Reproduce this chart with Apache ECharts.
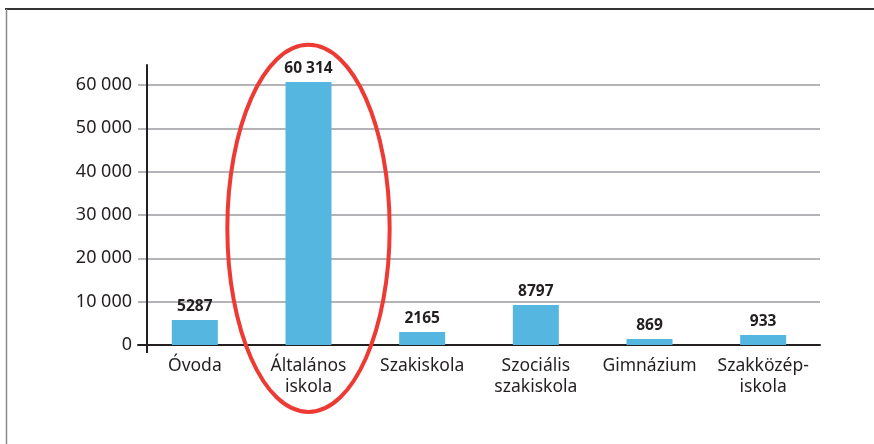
<!DOCTYPE html>
<html>
<head>
<meta charset="utf-8">
<script src="https://cdn.jsdelivr.net/npm/echarts@6/dist/echarts.min.js"></script>
<style>html,body{margin:0;padding:0;background:#fff}#c{width:874px;height:444px}</style>
</head>
<body>
<div id="c"></div>
<script>
const categories = ['Óvoda', 'Általános\niskola', 'Szakiskola', 'Szociális\nszakiskola', 'Gimnázium', 'Szakközép-\niskola'];
// bar heights as drawn in the picture
const barValues = [5770, 60700, 3000, 9230, 1380, 2300];
// printed value labels
const labelTexts = ['5287', '60 314', '2165', '8797', '869', '933'];
const yTicks = [0, 10000, 20000, 30000, 40000, 50000, 60000];
// highlighted category (ellipse around it), in data units
const highlightIndex = 1;
const highlightCenterValue = 26900;
const highlightHalfHeightValue = 42350;
const highlightHalfWidthBands = 0.714;

const FONT = 'Noto Sans';
const TXT = '#231f20';
const chart = echarts.init(document.getElementById('c'));
const option = {
  animation: false,
  backgroundColor: '#fff',
  grid: { left: 138, right: 54, top: 65, bottom: 99, containLabel: false },
  xAxis: {
    type: 'category',
    data: categories,
    axisLine: { show: true, lineStyle: { color: TXT, width: 2 } },
    axisTick: { show: false },
    axisLabel: { color: TXT, fontFamily: FONT, fontSize: 17.5, lineHeight: 21, margin: 11, interval: 0 }
  },
  yAxis: {
    type: 'value',
    min: 0,
    max: 64600,
    interval: 10000,
    offset: -9,
    axisLine: { show: true, lineStyle: { color: TXT, width: 2 } },
    axisTick: { show: false },
    splitLine: { show: true, showMaxLine: false, lineStyle: { color: '#b4b4b8', width: 2 } },
    axisLabel: {
      color: TXT, fontFamily: FONT, fontSize: 18, margin: 15, showMaxLabel: false,
      formatter: function (v) {
        if (yTicks.indexOf(v) < 0) return '';
        return String(v).replace(/\B(?=(\d{3})+(?!\d))/g, ' ');
      }
    }
  },
  series: [{
    type: 'bar',
    data: barValues,
    barWidth: 46,
    itemStyle: { color: '#55b6e0' },
    label: {
      show: true, position: 'top', distance: 5,
      color: TXT, fontFamily: FONT, fontWeight: 'bold', fontSize: 15.5,
      formatter: function (p) { return labelTexts[p.dataIndex]; }
    }
  }]
};
chart.setOption(option);

function drawExtras() {
  const c = chart.convertToPixel({ seriesIndex: 0 }, [highlightIndex, highlightCenterValue]);
  const cNext = chart.convertToPixel({ seriesIndex: 0 }, [highlightIndex + 1, highlightCenterValue]);
  const top = chart.convertToPixel({ seriesIndex: 0 }, [highlightIndex, highlightCenterValue + highlightHalfHeightValue]);
  const zero = chart.convertToPixel({ seriesIndex: 0 }, [0, 0]);
  const band = cNext[0] - c[0];
  const axisX = option.grid.left + 9;
  chart.setOption({
    graphic: [
      { type: 'ellipse', shape: { cx: c[0], cy: c[1], rx: band * highlightHalfWidthBands, ry: c[1] - top[1] },
        style: { fill: null, stroke: '#ee3a34', lineWidth: 4 }, z: 100 },
      { type: 'line', shape: { x1: axisX, y1: zero[1], x2: axisX, y2: zero[1] + 8 },
        style: { stroke: TXT, lineWidth: 2 } },
      { type: 'line', shape: { x1: 5, y1: 9, x2: 874, y2: 9 }, style: { stroke: '#333', lineWidth: 2 } },
      { type: 'line', shape: { x1: 6.5, y1: 9, x2: 6.5, y2: 444 }, style: { stroke: '#8a8a8a', lineWidth: 1.5 } }
    ]
  });
}
drawExtras();
</script>
</body>
</html>
